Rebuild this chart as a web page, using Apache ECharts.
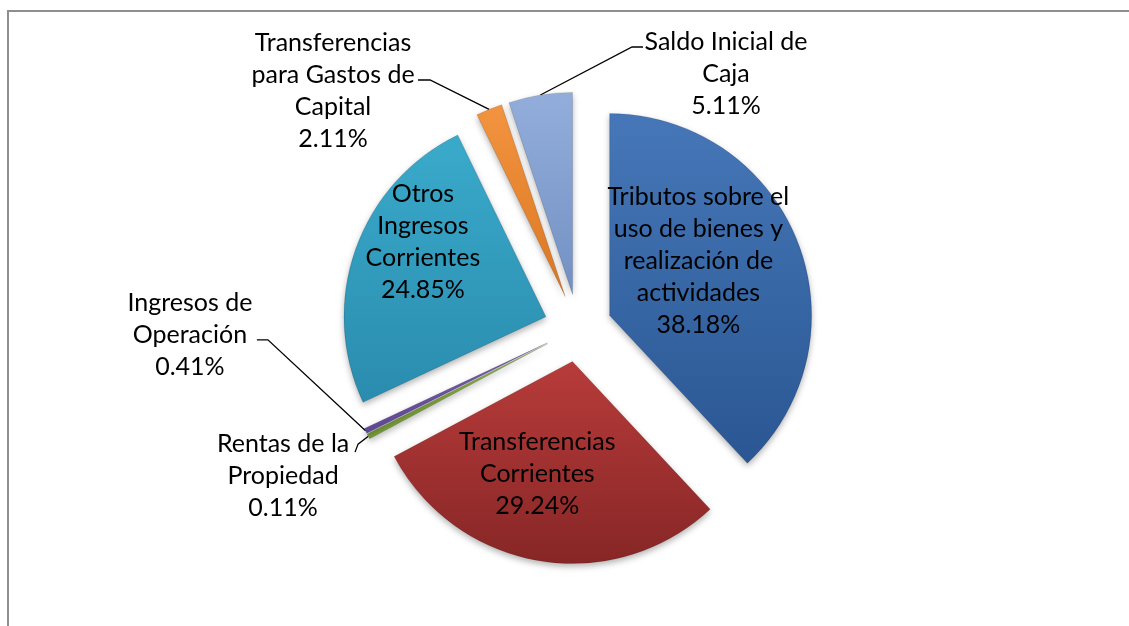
<!DOCTYPE html>
<html lang="es">

<head>
  <meta charset="utf-8">
  <title>Ingresos</title>
  <script src="https://cdn.jsdelivr.net/npm/echarts@6.0.0/dist/echarts.min.js"></script>
  <style>
    html, body { margin: 0; padding: 0; background: #fff; }
  </style>
</head>

<body>
<div id="main" style="width: 1129px;height:626px;"></div>
<script type="text/javascript">
    // datos (porcentaje del total), en sentido horario desde las 12
    var categories = [
        'Tributos sobre el uso de bienes y realización de actividades',
        'Transferencias Corrientes',
        'Rentas de la Propiedad',
        'Ingresos de Operación',
        'Otros Ingresos Corrientes',
        'Transferencias para Gastos de Capital',
        'Saldo Inicial de Caja'
    ];
    var values = [38.18, 29.24, 0.11, 0.41, 24.85, 2.11, 5.11];
    // nombres cortados en lineas como en la etiqueta original
    var labelNames = [
        ['Tributos sobre el', 'uso de bienes y', 'realización de', 'actividades'],
        ['Transferencias', 'Corrientes'],
        ['Rentas de la', 'Propiedad'],
        ['Ingresos de', 'Operación'],
        ['Otros', 'Ingresos', 'Corrientes'],
        ['Transferencias', 'para Gastos de', 'Capital'],
        ['Saldo Inicial de', 'Caja']
    ];

    var colors = [
        ['#4677b8', '#2a5793'],
        ['#b73c3a', '#872626'],
        ['#95bd4c', '#7ba23a'],
        ['#7a60ae', '#5f4892'],
        ['#3aaacb', '#2a8cae'],
        ['#f39440', '#db7722'],
        ['#93aedb', '#7290c3']
    ];
    var inside = [true, true, false, false, true, false, false];

    var pieCenter = [578, 328];
    var pieRadius = 202;
    var selOffset = 34;

    // posiciones de las etiquetas exteriores (centro del bloque) y codo de la guia
    var outerLabels = {
        2: {x: 283, y: 476, elbow: [358, 444], end: [355, 452]},
        3: {x: 190, y: 335, elbow: [268, 340], end: [257, 340]},
        5: {x: 333, y: 91, elbow: [430, 80], end: [418, 80]},
        6: {x: 726, y: 74, elbow: [632, 47], end: [643, 47]}
    };
    var innerShift = {0: [-8, -16], 1: [-18, 10], 4: [-25, -40]};

    // desplazamiento del sector separado (etiqueta y guia van en coordenadas del sector)
    function sliceShift(idx) {
        var total = 0, cum = 0;
        for (var k = 0; k < values.length; k++) {
            total += values[k];
            if (k < idx) cum += values[k];
        }
        var a = (90 - (cum + values[idx] / 2) / total * 360) * Math.PI / 180;
        return [selOffset * Math.cos(a), -selOffset * Math.sin(a)];
    }

    var myChart = echarts.init(document.getElementById('main'));

    var pieData = [];
    for (var i = 0; i < values.length; i++) {
        pieData.push({
            name: categories[i],
            value: values[i],
            selected: true,
            itemStyle: {
                color: new echarts.graphic.LinearGradient(0, 0, 0, 1, [
                    {offset: 0, color: colors[i][0]},
                    {offset: 1, color: colors[i][1]}
                ])
            },
            label: {
                position: inside[i] ? 'inside' : 'outside'
            },
            labelLine: {
                show: !inside[i]
            }
        });
    }

    var textStyle = {
        color: '#000',
        fontFamily: 'Lato',
        fontSize: 25,
        lineHeight: 32,
        align: 'center'
    };

    option = {
        animation: false,
        graphic: [{
            type: 'rect',
            shape: {x: 8, y: 11, width: 1300, height: 800},
            style: {fill: 'none', stroke: '#8e8e8e', lineWidth: 2},
            silent: true
        }],
        series: [{
            type: 'pie',
            center: pieCenter,
            radius: [0, pieRadius],
            startAngle: 90,
            clockwise: true,
            selectedMode: 'multiple',
            selectedOffset: selOffset,
            avoidLabelOverlap: false,
            minAngle: 1.5,
            itemStyle: {
                borderColor: 'rgba(0,0,0,0.12)',
                borderWidth: 1,
                shadowColor: 'rgba(0,0,0,0.3)',
                shadowBlur: 6,
                shadowOffsetY: 3
            },
            label: {
                color: '#000',
                fontFamily: 'Lato',
                fontSize: 25,
                lineHeight: 32,
                formatter: function (params) {
                    var lines = labelNames[params.dataIndex].concat([params.value.toFixed(2) + '%']);
                    return lines.map(function (l) { return '{c|' + l + '}'; }).join('\n');
                },
                rich: {c: textStyle}
            },
            labelLine: {
                length: 30,
                length2: 10,
                lineStyle: {color: '#000', width: 1.3}
            },
            labelLayout: function (params) {
                var idx = params.dataIndex;
                var o = outerLabels[idx];
                var r = params.labelRect;
                if (o) {
                    var s = sliceShift(idx);
                    var res = {
                        dx: o.x - s[0] - (r.x + r.width / 2),
                        dy: o.y - s[1] - (r.y + r.height / 2)
                    };
                    if (params.labelLinePoints) {
                        var p = params.labelLinePoints;
                        p[1] = [o.elbow[0] - s[0], o.elbow[1] - s[1]];
                        p[2] = [o.end[0] - s[0], o.end[1] - s[1]];
                        res.labelLinePoints = p;
                    }
                    return res;
                }
                var sh = innerShift[idx];
                if (sh) {
                    return {dx: sh[0], dy: sh[1]};
                }
            },
            emphasis: {disabled: true},
            data: pieData
        }]
    };

    myChart.setOption(option);
</script>

</body>
</html>
